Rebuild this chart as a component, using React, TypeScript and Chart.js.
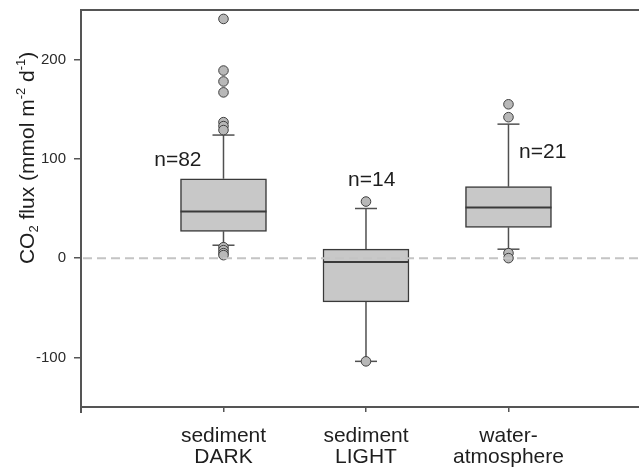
import React, { useEffect, useRef } from "react";
import { Chart, registerables } from "chart.js";

Chart.register(...registerables);

// ---- data ----
const categories: string[][] = [
  ["sediment", "DARK"],
  ["sediment", "LIGHT"],
  ["water-", "atmosphere"],
];
const categoryX = [1, 2, 3];
const q1 = [27, -44, 31];
const median = [47, -4, 51];
const q3 = [80, 9, 72];
const whiskerLow = [13, -104, 9];
const whiskerHigh = [124, 50, 135];
const outliersDark = [241, 189, 178, 167, 137, 133, 129, 11, 8, 5, 3];
const outliersLight = [57, -104];
const outliersWater = [155, 142, 5, 0];
const sampleSizes = ["n=82", "n=14", "n=21"];
const yTicks = [-100, 0, 100, 200];

// annotation anchors (data units) for the n= labels
const nLabelAnchorX = [0.68, 2.04, 3.24];
const nLabelAnchorY = [99, 79, 107];

const FONT = "'Liberation Sans', Arial, sans-serif";

const extrasPlugin = {
  id: "boxExtras",
  beforeDatasetsDraw(chart: any) {
    const { ctx, scales } = chart;
    const xs = scales.x;
    const ys = scales.y;
    ctx.save();
    ctx.strokeStyle = "#505050";
    ctx.lineWidth = 1.5;
    categoryX.forEach((cx, i) => {
      const px = xs.getPixelForValue(cx);
      const capHalf = 11;
      ctx.beginPath();
      ctx.moveTo(px, ys.getPixelForValue(q3[i]));
      ctx.lineTo(px, ys.getPixelForValue(whiskerHigh[i]));
      ctx.stroke();
      ctx.beginPath();
      ctx.moveTo(px - capHalf, ys.getPixelForValue(whiskerHigh[i]));
      ctx.lineTo(px + capHalf, ys.getPixelForValue(whiskerHigh[i]));
      ctx.stroke();
      ctx.beginPath();
      ctx.moveTo(px, ys.getPixelForValue(q1[i]));
      ctx.lineTo(px, ys.getPixelForValue(whiskerLow[i]));
      ctx.stroke();
      ctx.beginPath();
      ctx.moveTo(px - capHalf, ys.getPixelForValue(whiskerLow[i]));
      ctx.lineTo(px + capHalf, ys.getPixelForValue(whiskerLow[i]));
      ctx.stroke();
    });
    ctx.restore();
  },
  afterDatasetsDraw(chart: any) {
    const { ctx, scales, chartArea } = chart;
    const xs = scales.x;
    const ys = scales.y;
    ctx.save();
    // medians
    ctx.strokeStyle = "#3a3a3a";
    ctx.lineWidth = 2;
    const meta = chart.getDatasetMeta(0);
    categoryX.forEach((cx, i) => {
      const bar = meta.data[i];
      const half = bar ? bar.width / 2 : 43;
      const px = xs.getPixelForValue(cx);
      const py = ys.getPixelForValue(median[i]);
      ctx.beginPath();
      ctx.moveTo(px - half, py);
      ctx.lineTo(px + half, py);
      ctx.stroke();
    });
    // dashed zero line
    ctx.strokeStyle = "#c4c4c4";
    ctx.lineWidth = 2;
    ctx.setLineDash([9, 5]);
    const zy = ys.getPixelForValue(0);
    ctx.beginPath();
    ctx.moveTo(chartArea.left + 2, zy);
    ctx.lineTo(chartArea.right, zy);
    ctx.stroke();
    ctx.setLineDash([]);
    // top frame line
    ctx.strokeStyle = "#555555";
    ctx.lineWidth = 2;
    ctx.beginPath();
    ctx.moveTo(chartArea.left, chartArea.top);
    ctx.lineTo(chartArea.right, chartArea.top);
    ctx.stroke();
    // left axis overhang below x axis
    ctx.beginPath();
    ctx.moveTo(chartArea.left, chartArea.bottom);
    ctx.lineTo(chartArea.left, chartArea.bottom + 6);
    ctx.stroke();
    // n= labels
    ctx.fillStyle = "#1e1e1e";
    ctx.font = `21px ${FONT}`;
    ctx.textAlign = "center";
    ctx.textBaseline = "middle";
    sampleSizes.forEach((t, i) => {
      ctx.fillText(t, xs.getPixelForValue(nLabelAnchorX[i]), ys.getPixelForValue(nLabelAnchorY[i]));
    });
    // y-axis title with sub/superscripts
    const parts: { t: string; k: "n" | "sub" | "sup" }[] = [
      { t: "CO", k: "n" },
      { t: "2", k: "sub" },
      { t: " flux (mmol m", k: "n" },
      { t: "-2", k: "sup" },
      { t: " d", k: "n" },
      { t: "-1", k: "sup" },
      { t: ")", k: "n" },
    ];
    const big = 21;
    const small = 13;
    let total = 0;
    parts.forEach((p) => {
      ctx.font = `${p.k === "n" ? big : small}px ${FONT}`;
      total += ctx.measureText(p.t).width;
    });
    const cxT = 27;
    const cyT = ys.getPixelForValue(101);
    ctx.translate(cxT, cyT);
    ctx.rotate(-Math.PI / 2);
    ctx.textAlign = "left";
    ctx.textBaseline = "alphabetic";
    let xPos = -total / 2;
    const base = 7;
    parts.forEach((p) => {
      ctx.font = `${p.k === "n" ? big : small}px ${FONT}`;
      const dy = p.k === "sub" ? base + 4 : p.k === "sup" ? base - 9 : base;
      ctx.fillText(p.t, xPos, dy);
      xPos += ctx.measureText(p.t).width;
    });
    ctx.restore();
  },
};

export default function App() {
  const ref = useRef<HTMLCanvasElement | null>(null);
  useEffect(() => {
    if (!ref.current) return;
    const outlierPoints = [
      ...outliersDark.map((y) => ({ x: categoryX[0], y })),
      ...outliersLight.map((y) => ({ x: categoryX[1], y })),
      ...outliersWater.map((y) => ({ x: categoryX[2], y })),
    ];
    const chart = new Chart(ref.current, {
      type: "bar",
      data: {
        datasets: [
          {
            type: "bar",
            label: "IQR",
            data: categoryX.map((x, i) => ({ x, y: [q1[i], q3[i]] })) as any,
            backgroundColor: "#c8c8c8",
            borderColor: "#3a3a3a",
            borderWidth: 1.5,
            borderSkipped: false,
            barThickness: 86,
            order: 2,
          } as any,
          {
            type: "scatter",
            label: "outliers",
            data: outlierPoints,
            pointRadius: 4.8,
            backgroundColor: "#b8b8b8",
            borderColor: "#404040",
            borderWidth: 1,
            order: 1,
          } as any,
        ],
      },
      options: {
        animation: false,
        responsive: true,
        maintainAspectRatio: false,
        events: [],
        layout: { autoPadding: false, padding: { top: 10, right: 0, left: 0, bottom: 0 } },
        plugins: { legend: { display: false }, tooltip: { enabled: false } },
        scales: {
          x: {
            type: "linear",
            min: 0,
            max: 3.916,
            offset: false,
            afterBuildTicks: (s: any) => {
              s.ticks = categoryX.map((v) => ({ value: v }));
            },
            ticks: {
              callback: (v: any) => categories[Math.round(v) - 1] ?? "",
              font: { family: FONT, size: 21, lineHeight: 1.0 },
              color: "#1e1e1e",
              padding: 14,
              maxRotation: 0,
              autoSkip: false,
            },
            grid: { offset: false, drawOnChartArea: false, tickLength: 5, color: "#555555", lineWidth: 1.5 },
            border: { color: "#555555", width: 2 },
            afterFit: (s: any) => {
              s.height = 60;
              s.paddingLeft = 0;
              s.paddingRight = 0;
            },
          },
          y: {
            type: "linear",
            min: -150,
            max: 250,
            afterBuildTicks: (s: any) => {
              s.ticks = yTicks.map((v) => ({ value: v }));
            },
            ticks: {
              font: { family: FONT, size: 15 },
              color: "#2a2a2a",
              padding: 8,
            },
            grid: { drawOnChartArea: false, tickLength: 7, color: "#555555", lineWidth: 1.5 },
            border: { color: "#555555", width: 2 },
            afterFit: (s: any) => {
              s.width = 81;
              s.paddingTop = 0;
              s.paddingBottom = 0;
            },
          },
        },
      } as any,
      plugins: [extrasPlugin],
    });
    return () => chart.destroy();
  }, []);
  return (
    <div style={{ position: "fixed", left: 0, top: 0, width: 639, height: 467, background: "#fff" }}>
      <canvas ref={ref} />
    </div>
  );
}
